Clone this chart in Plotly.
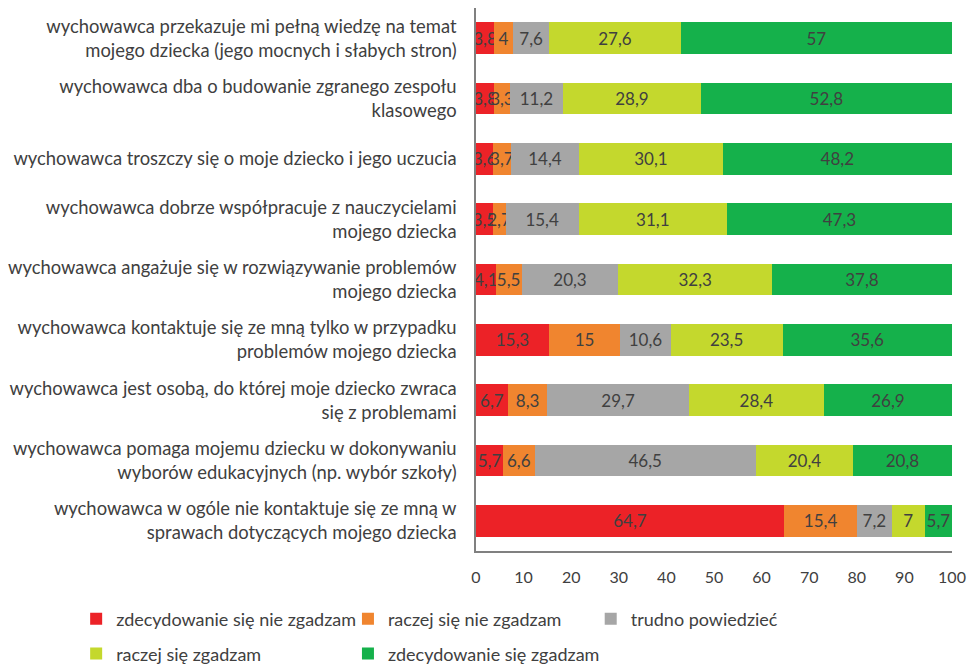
import plotly.graph_objects as go

categories = [
    "wychowawca przekazuje mi pełną wiedzę na temat<br>mojego dziecka (jego mocnych i słabych stron)",
    "wychowawca dba o budowanie zgranego zespołu<br>klasowego",
    "wychowawca troszczy się o moje dziecko i jego uczucia",
    "wychowawca dobrze współpracuje z nauczycielami<br>mojego dziecka",
    "wychowawca angażuje się w rozwiązywanie problemów<br>mojego dziecka",
    "wychowawca kontaktuje się ze mną tylko w przypadku<br>problemów mojego dziecka",
    "wychowawca jest osobą, do której moje dziecko zwraca<br>się z problemami",
    "wychowawca pomaga mojemu dziecku w dokonywaniu<br>wyborów edukacyjnych (np. wybór szkoły)",
    "wychowawca w ogóle nie kontaktuje się ze mną w<br>sprawach dotyczących mojego dziecka",
]

zdecydowanie_nie = [3.8, 3.8, 3.6, 3.5, 4.1, 15.3, 6.7, 5.7, 64.7]
raczej_nie = [4.0, 3.3, 3.7, 2.7, 5.5, 15.0, 8.3, 6.6, 15.4]
trudno = [7.6, 11.2, 14.4, 15.4, 20.3, 10.6, 29.7, 46.5, 7.2]
raczej_tak = [27.6, 28.9, 30.1, 31.1, 32.3, 23.5, 28.4, 20.4, 7.0]
zdecydowanie_tak = [57.0, 52.8, 48.2, 47.3, 37.8, 35.6, 26.9, 20.8, 5.7]

series_names = [
    "zdecydowanie się nie zgadzam",
    "raczej się nie zgadzam",
    "trudno powiedzieć",
    "raczej się zgadzam",
    "zdecydowanie się zgadzam",
]
series_values = [zdecydowanie_nie, raczej_nie, trudno, raczej_tak, zdecydowanie_tak]
colors = ["#EC2227", "#F0852F", "#A6A6A6", "#C4D82D", "#15B14B"]

FONT = "Lato, Open Sans, sans-serif"
TEXT_COLOR = "#404040"


def fmt(v):
    s = ("%.1f" % v).rstrip("0").rstrip(".")
    return s.replace(".", ",")


# legend placement (paper coords) for each series: two rows below the axis
legend_pos = [(-0.84, -0.1252), (-0.269, -0.1252), (0.241, -0.1252),
              (-0.84, -0.1895), (-0.269, -0.1895)]

fig = go.Figure()
for i, (name, vals, col) in enumerate(zip(series_names, series_values, colors)):
    fig.add_trace(go.Bar(
        y=categories, x=vals, name=name, orientation="h",
        marker=dict(color=col, line=dict(width=0)),
        text=[fmt(v) for v in vals],
        textposition="inside", insidetextanchor="middle",
        textangle=0, constraintext="none",
        textfont=dict(family=FONT, size=17, color=TEXT_COLOR),
        legend="legend" if i == 0 else "legend%d" % (i + 1),
        showlegend=True,
        hoverinfo="x+name",
    ))

layout_legends = {}
for i, (lx, ly) in enumerate(legend_pos):
    key = "legend" if i == 0 else "legend%d" % (i + 1)
    layout_legends[key] = dict(
        x=lx, y=ly, xanchor="left", yanchor="middle",
        orientation="h", bgcolor="rgba(0,0,0,0)",
        font=dict(family=FONT, size=18, color=TEXT_COLOR),
        itemclick=False, itemdoubleclick=False,
    )

fig.update_layout(
    barmode="stack",
    bargap=0.48,
    showlegend=True,
    width=968, height=666,
    margin=dict(l=476, r=16, t=8, b=115, autoexpand=False),
    paper_bgcolor="white", plot_bgcolor="white",
    font=dict(family=FONT, size=16, color=TEXT_COLOR),
    uniformtext=dict(minsize=17, mode="show"),
    xaxis=dict(
        range=[0, 100], dtick=10, showgrid=False, zeroline=False,
        showline=True, linecolor="#808080", linewidth=1.5,
        ticks="", tickfont=dict(family=FONT, size=16, color=TEXT_COLOR),
        ticklabelstandoff=11,
    ),
    yaxis=dict(
        autorange="reversed", showgrid=False, zeroline=False,
        showline=True, linecolor="#808080", linewidth=1.5,
        ticks="", ticklabelstandoff=14,
        tickfont=dict(family=FONT, size=18.4, color=TEXT_COLOR),
    ),
    **layout_legends,
)

fig.write_html("out.html")
